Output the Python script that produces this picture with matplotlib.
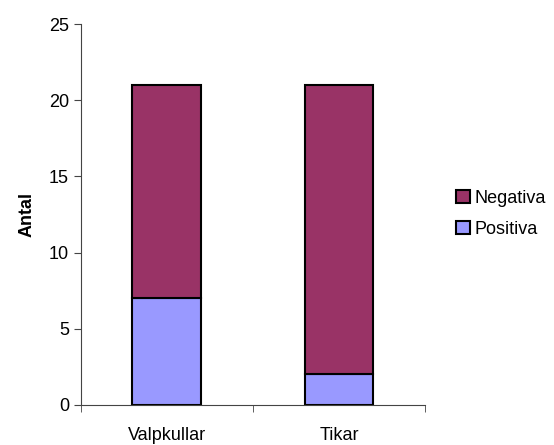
import matplotlib
matplotlib.use("Agg")
import matplotlib.pyplot as plt

categories = ["Valpkullar", "Tikar"]
positiva = [7, 2]
negativa = [14, 19]

plt.rcParams['font.family'] = ['Liberation Sans', 'DejaVu Sans']

fig = plt.figure(figsize=(5.54, 4.45), dpi=100)
ax = fig.add_axes([0.146, 0.09, 0.621, 0.856])

x = list(range(len(categories)))
b1 = ax.bar(x, positiva, width=0.4, color='#9999FF', edgecolor='black', linewidth=1.5, label='Positiva')
b2 = ax.bar(x, negativa, width=0.4, bottom=positiva, color='#993366', edgecolor='black', linewidth=1.5, label='Negativa')

ax.set_xlim(-0.5, 1.5)
ax.set_ylim(0, 25)
ax.set_yticks([0, 5, 10, 15, 20, 25])
ax.set_xticks(x)
ax.set_xticklabels(categories)
ax.set_xticks([-0.5, 0.5, 1.5], minor=True)
ax.tick_params(axis='x', which='major', length=0, pad=16, labelsize=13)
ax.tick_params(axis='x', which='minor', length=5, direction='out', color='#444444')
ax.tick_params(axis='y', length=5, direction='out', labelsize=13, color='#444444')
ax.set_ylabel('Antal', fontsize=13, fontweight='bold', labelpad=10)

for s in ['top', 'right']:
    ax.spines[s].set_visible(False)
for s in ['left', 'bottom']:
    ax.spines[s].set_color('#444444')
    ax.spines[s].set_linewidth(0.8)

fig.legend([b2, b1], ['Negativa', 'Positiva'], loc='upper left', bbox_to_anchor=(0.81, 0.59),
           frameon=False, fontsize=13, handlelength=0.75, handleheight=0.75, handletextpad=0.25,
           labelspacing=0.8, borderaxespad=0)

fig.savefig('out.png', dpi=100)
